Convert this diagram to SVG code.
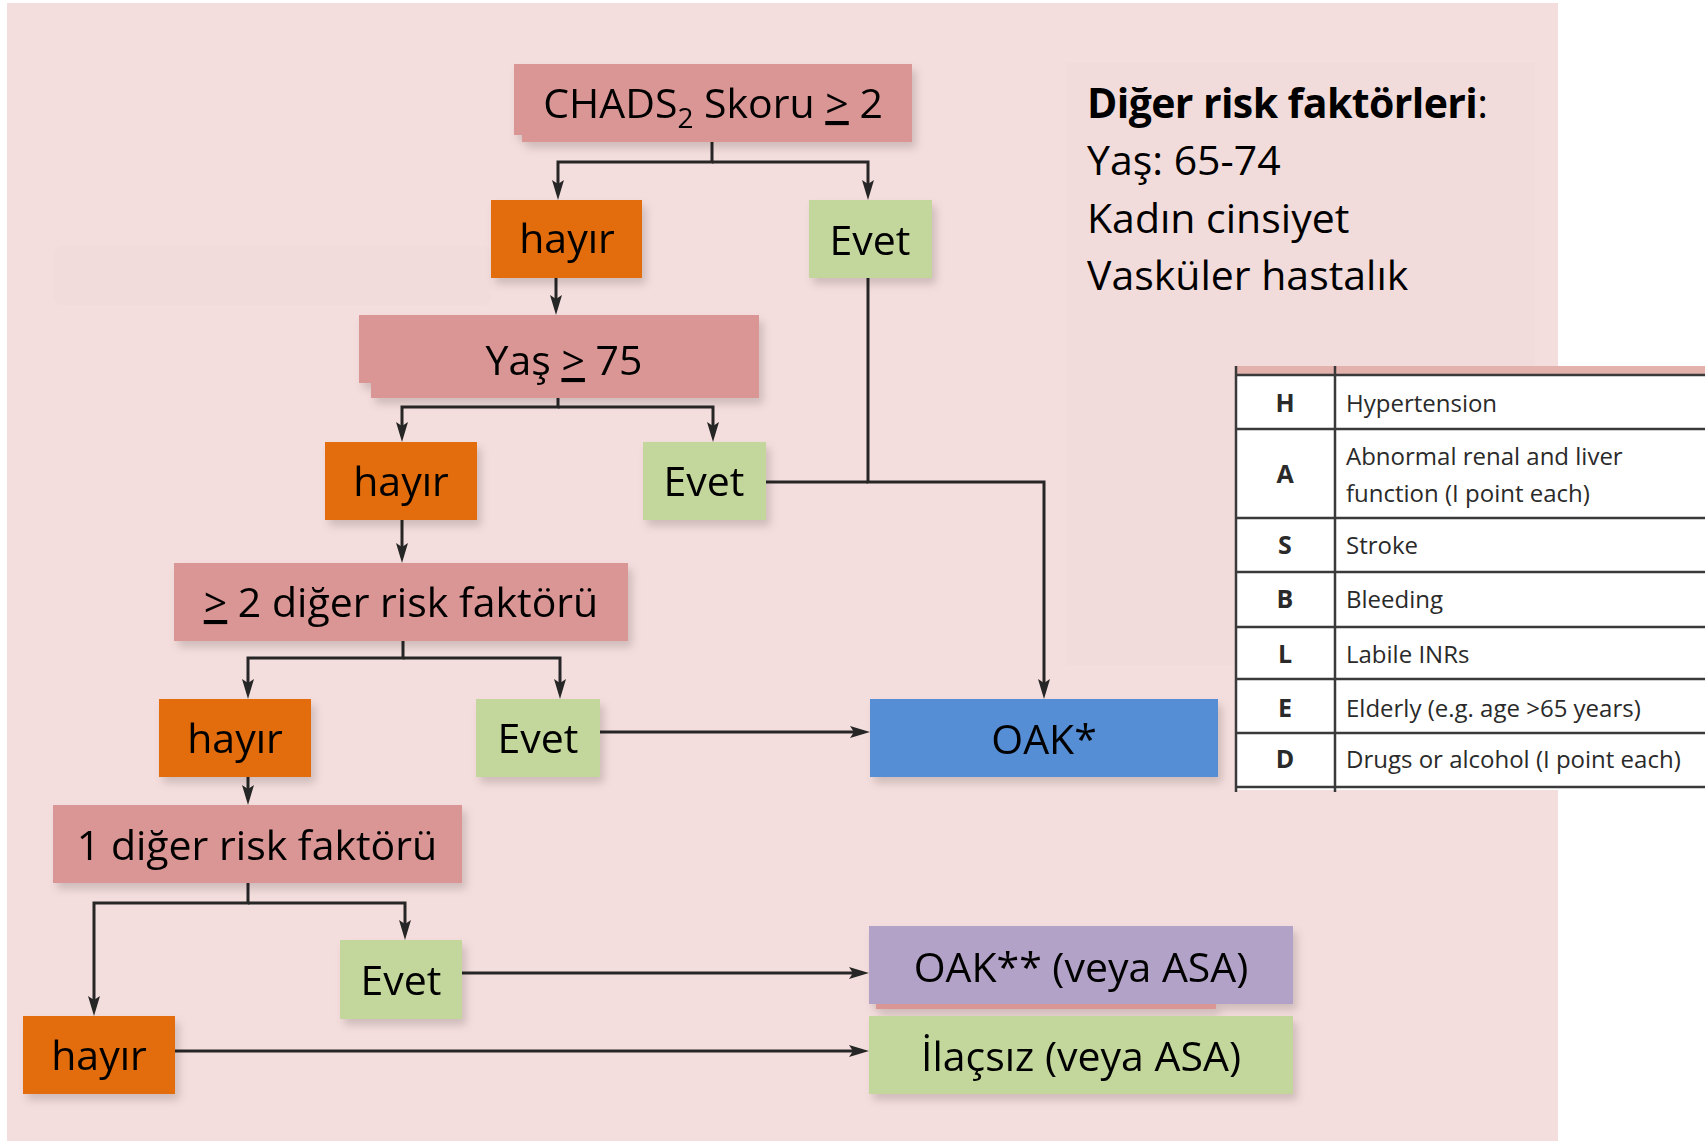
<svg xmlns="http://www.w3.org/2000/svg" width="1705" height="1141" viewBox="0 0 1705 1141">
<defs>
<style>
.t{font-family:"Open Sans","Noto Sans",sans-serif;font-size:41px;fill:#000;text-anchor:middle}
.n{font-family:"Open Sans","Noto Sans",sans-serif;font-size:41px;fill:#000}
.pink{fill:#D99694}
.orange{fill:#E36C09}
.green{fill:#C3D69B}
.blue{fill:#558ED5}
.purple{fill:#B3A2C7}
.conn path{fill:none;stroke:#262626;stroke-width:3}
.arr{marker-end:url(#ah)}
.tb{font-family:"Open Sans","Noto Sans",sans-serif;font-size:24px;fill:#2a2a2a}
.tl{font-family:"Open Sans","Noto Sans",sans-serif;font-size:25px;font-weight:bold;fill:#2a2a2a;text-anchor:middle}
.tline{stroke:#3a3a3a;stroke-width:2.5}
.u{text-decoration:underline}
</style>
<marker id="ah" markerUnits="userSpaceOnUse" markerWidth="20" markerHeight="12" refX="14" refY="6" orient="auto"><path d="M0,0 L20,6 L0,12 L4,6 z" fill="#262626"/></marker>
<filter id="sh" x="-10%" y="-20%" width="130%" height="160%"><feDropShadow dx="4" dy="6" stdDeviation="4" flood-color="#000" flood-opacity="0.16"/></filter>
</defs>

<rect x="7" y="3" width="1551" height="1138" fill="#F4DEDD"/>
<rect x="54" y="246" width="437" height="59" rx="8" fill="#F1DCDB"/>

<g id="note">
<rect x="1066" y="63" width="469" height="602" fill="#F2DCDB"/>
<text class="n" x="1087" y="118" font-weight="bold" font-size="40" letter-spacing="-0.6">Diğer risk faktörleri<tspan font-weight="normal">:</tspan></text>
<text class="n" x="1087" y="175">Yaş: 65-74</text>
<text class="n" x="1087" y="233">Kadın cinsiyet</text>
<text class="n" x="1087" y="290">Vasküler hastalık</text>
</g>

<g class="conn" id="connectors">
<path class="arr" d="M712,142 V162 H558 V194"/>
<path class="arr" d="M712,162 H868 V194"/>
<path class="arr" d="M556,278 V309"/>
<path class="arr" d="M868,278 V482 H1044 V693"/>
<path d="M766,482 H868"/>
<path class="arr" d="M558,398 V407 H402 V436"/>
<path class="arr" d="M558,407 H713 V436"/>
<path class="arr" d="M402,520 V557"/>
<path class="arr" d="M403,641 V658 H248 V693"/>
<path class="arr" d="M403,658 H560 V693"/>
<path class="arr" d="M600,732 H864"/>
<path class="arr" d="M248,777 V799"/>
<path class="arr" d="M248,883 V903 H94 V1010"/>
<path class="arr" d="M248,903 H405 V934"/>
<path class="arr" d="M462,973 H863"/>
<path class="arr" d="M175,1051 H863"/>
</g>

<g id="n-chads" filter="url(#sh)">
<path class="pink" d="M514,64 H912 V142 H522 V135 H514 Z"/>
<text class="t" x="713" y="118">CHADS<tspan font-size="28" dy="10">2</tspan><tspan dy="-10"> Skoru </tspan><tspan class="u">&gt;</tspan> 2</text>
</g>
<g id="n-hayir1" filter="url(#sh)"><rect class="orange" x="491" y="200" width="151" height="78"/><text class="t" x="567" y="253">hayır</text></g>
<g id="n-evet1" filter="url(#sh)"><rect class="green" x="809" y="200" width="123" height="78"/><text class="t" x="870" y="255">Evet</text></g>
<g id="n-yas" filter="url(#sh)">
<path class="pink" d="M359,315 H759 V398 H371 V383 H359 Z"/>
<text class="t" x="564" y="375">Yaş <tspan class="u">&gt;</tspan> 75</text>
</g>
<g id="n-hayir2" filter="url(#sh)"><rect class="orange" x="325" y="442" width="152" height="78"/><text class="t" x="401" y="496">hayır</text></g>
<g id="n-evet2" filter="url(#sh)"><rect class="green" x="643" y="442" width="123" height="78"/><text class="t" x="704" y="496">Evet</text></g>
<g id="n-risk2" filter="url(#sh)"><rect class="pink" x="174" y="563" width="454" height="78"/><text class="t" x="401" y="617"><tspan class="u">&gt;</tspan> 2 diğer risk faktörü</text></g>
<g id="n-hayir3" filter="url(#sh)"><rect class="orange" x="159" y="699" width="152" height="78"/><text class="t" x="235" y="753">hayır</text></g>
<g id="n-evet3" filter="url(#sh)"><rect class="green" x="476" y="699" width="124" height="78"/><text class="t" x="538" y="753">Evet</text></g>
<g id="n-oak1" filter="url(#sh)"><rect class="blue" x="870" y="699" width="348" height="78"/><text class="t" x="1044" y="754">OAK*</text></g>
<g id="n-risk1" filter="url(#sh)"><rect class="pink" x="53" y="805" width="409" height="78"/><text class="t" x="257" y="860">1 diğer risk faktörü</text></g>
<g id="n-evet4" filter="url(#sh)"><rect class="green" x="340" y="940" width="122" height="79"/><text class="t" x="401" y="995">Evet</text></g>
<g id="n-hayir4" filter="url(#sh)"><rect class="orange" x="23" y="1016" width="152" height="78"/><text class="t" x="99" y="1070">hayır</text></g>
<g id="n-oak2" filter="url(#sh)"><rect class="pink" x="876" y="990" width="340" height="19"/><rect class="purple" x="869" y="926" width="424" height="78"/><text class="t" x="1081" y="982">OAK** (veya ASA)</text></g>
<g id="n-ilacsiz" filter="url(#sh)"><rect class="green" x="869" y="1016" width="424" height="78"/><text class="t" x="1081" y="1071">İlaçsız (veya ASA)</text></g>

<g id="table">
<rect x="1235" y="366" width="470" height="424" fill="#fff"/>
<rect x="1235" y="366" width="470" height="9" fill="#E3B2AD"/>
<line class="tline" x1="1235" y1="375" x2="1705" y2="375"/>
<line class="tline" x1="1235" y1="429" x2="1705" y2="429"/>
<line class="tline" x1="1235" y1="518" x2="1705" y2="518"/>
<line class="tline" x1="1235" y1="572" x2="1705" y2="572"/>
<line class="tline" x1="1235" y1="627" x2="1705" y2="627"/>
<line class="tline" x1="1235" y1="679" x2="1705" y2="679"/>
<line class="tline" x1="1235" y1="733" x2="1705" y2="733"/>
<line class="tline" x1="1235" y1="787" x2="1705" y2="787"/>
<line class="tline" x1="1236" y1="366" x2="1236" y2="792"/>
<line class="tline" x1="1335" y1="366" x2="1335" y2="792"/>
<text class="tl" x="1285" y="412">H</text>
<text class="tl" x="1285" y="483">A</text>
<text class="tl" x="1285" y="554">S</text>
<text class="tl" x="1285" y="608">B</text>
<text class="tl" x="1285" y="663">L</text>
<text class="tl" x="1285" y="717">E</text>
<text class="tl" x="1285" y="768">D</text>
<text class="tb" x="1346" y="412">Hypertension</text>
<text class="tb" x="1346" y="465">Abnormal renal and liver</text>
<text class="tb" x="1346" y="502">function (I point each)</text>
<text class="tb" x="1346" y="554">Stroke</text>
<text class="tb" x="1346" y="608">Bleeding</text>
<text class="tb" x="1346" y="663">Labile INRs</text>
<text class="tb" x="1346" y="717">Elderly (e.g. age &gt;65 years)</text>
<text class="tb" x="1346" y="768">Drugs or alcohol (I point each)</text>
</g>
</svg>
